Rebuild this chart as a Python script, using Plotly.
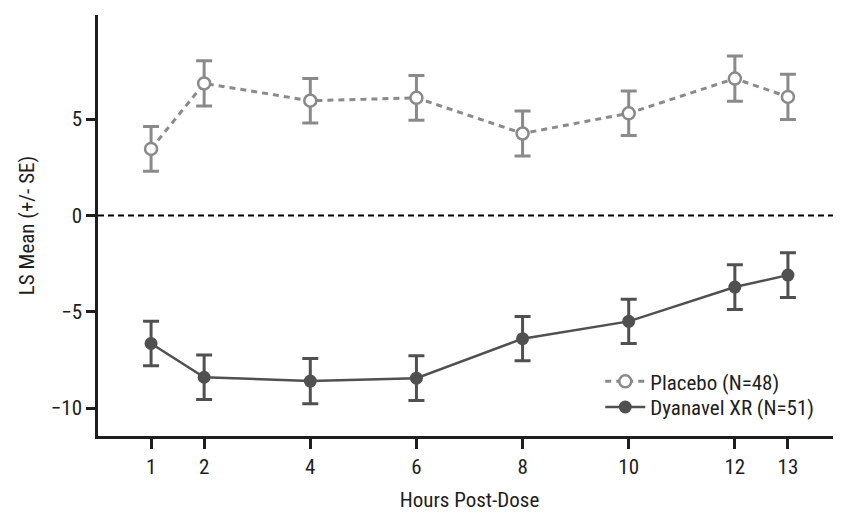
import plotly.graph_objs as go

hours = [1, 2, 4, 6, 8, 10, 12, 13]
tick_vals = [1, 2, 4, 6, 8, 10, 12, 13]

placebo_mean = [3.45, 6.85, 5.95, 6.1, 4.25, 5.3, 7.1, 6.15]
placebo_se = [1.16, 1.17, 1.16, 1.16, 1.17, 1.16, 1.17, 1.17]

dyanavel_mean = [-6.65, -8.4, -8.6, -8.45, -6.4, -5.5, -3.72, -3.1]
dyanavel_se = [1.16, 1.16, 1.17, 1.16, 1.15, 1.15, 1.16, 1.16]

font_family = "Roboto Condensed, Liberation Sans Narrow, Arial Narrow, Roboto, sans-serif"
placebo_col = '#8a8a8a'
dyanavel_col = '#505050'
axis_col = '#1e1e1e'

fig = go.Figure()

fig.add_trace(go.Scatter(
    x=hours, y=placebo_mean, name='Placebo (N=48)', mode='lines+markers',
    line=dict(color=placebo_col, width=3, dash='6px,5px'),
    marker=dict(symbol='circle', size=12, color='white',
                line=dict(color=placebo_col, width=2.5)),
    error_y=dict(type='data', array=placebo_se, visible=True,
                 color=placebo_col, thickness=3, width=8),
    legend='legend',
))

fig.add_trace(go.Scatter(
    x=hours, y=dyanavel_mean, name='Dyanavel XR (N=51)', mode='lines+markers',
    line=dict(color=dyanavel_col, width=2.5),
    marker=dict(symbol='circle', size=13, color=dyanavel_col),
    error_y=dict(type='data', array=dyanavel_se, visible=True,
                 color=dyanavel_col, thickness=3, width=8),
    legend='legend2',
))

# dashed zero reference line
fig.add_hline(y=0, line=dict(color='black', width=2, dash='6px,4px'), layer='below')

legend_style = dict(xanchor='left', yanchor='middle', bgcolor='rgba(0,0,0,0)',
                    font=dict(size=21), itemwidth=40)

# page body has an 8px margin, so the figure is a bit smaller than the window
fig.update_layout(
    width=833, height=506,
    margin=dict(l=90, r=0, t=7, b=78),
    paper_bgcolor='white', plot_bgcolor='white',
    font=dict(family=font_family, size=21, color=axis_col),
    showlegend=True,
    legend=dict(x=0.676, y=0.129, **legend_style),
    legend2=dict(x=0.676, y=0.068, **legend_style),
    xaxis=dict(
        range=[0, 14], tickvals=tick_vals, ticktext=[str(t) for t in tick_vals],
        showgrid=False, zeroline=False, showline=True, linecolor=axis_col,
        linewidth=2.5, ticks='outside', ticklen=10, tickwidth=2.5,
        tickcolor=axis_col, tickfont=dict(size=21), automargin=False,
        title=dict(text='Hours Post-Dose', standoff=15, font=dict(size=21)),
    ),
    yaxis=dict(
        range=[-11.45, 10.4], tickvals=[-10, -5, 0, 5],
        showgrid=False, zeroline=False, showline=True, linecolor=axis_col,
        linewidth=2.5, ticks='outside', ticklen=9, tickwidth=2.5,
        tickcolor=axis_col, tickfont=dict(size=21), automargin=False,
        title=dict(text='LS Mean (+/- SE)', standoff=11, font=dict(size=21)),
    ),
)

fig.write_html("out.html")
